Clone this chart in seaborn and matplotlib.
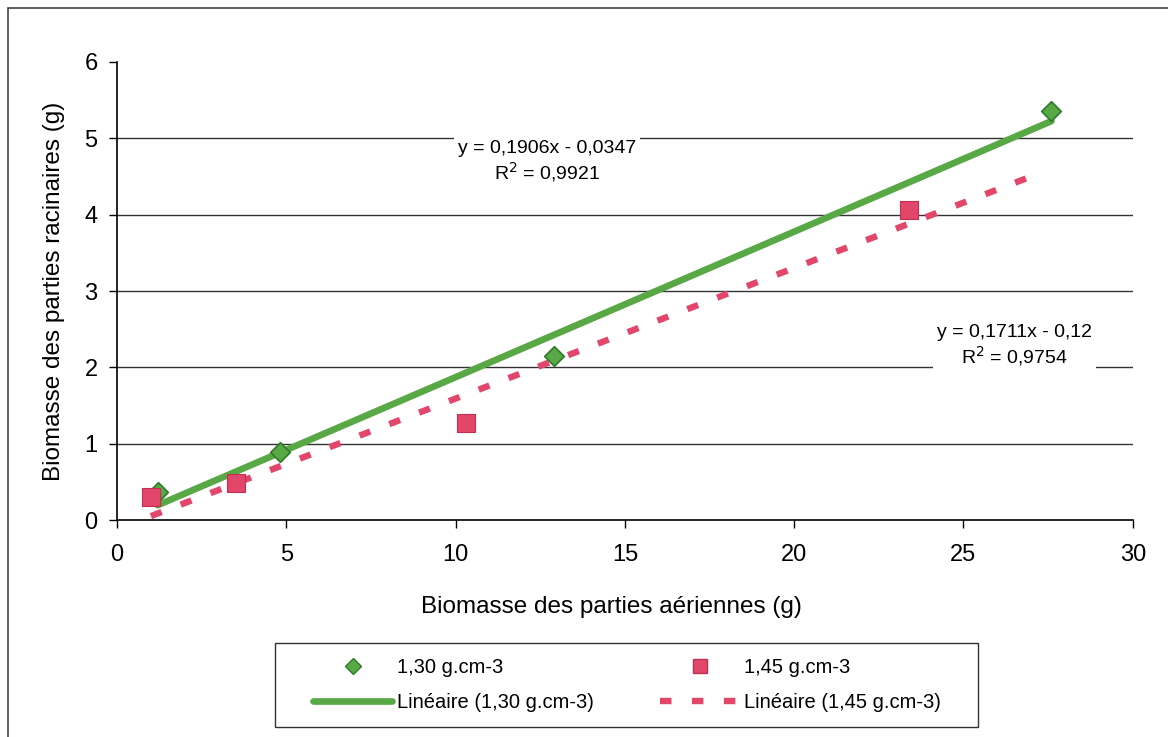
import numpy as np
import pandas as pd
import matplotlib
matplotlib.use("Agg")
import matplotlib.pyplot as plt
from matplotlib.patches import Rectangle
from matplotlib.lines import Line2D
import seaborn as sns

# values
x_130 = [1.2, 4.8, 12.9, 27.6]
y_130 = [0.37, 0.89, 2.15, 5.36]
x_145 = [1.0, 3.5, 10.3, 23.4]
y_145 = [0.30, 0.48, 1.27, 4.06]

# trend lines (Excel linear fits, as printed on the chart)
fit_130 = (0.1906, -0.0347, 0.9921)
fit_145 = (0.1711, -0.12, 0.9754)
line_x_130 = [1.2, 27.6]
line_x_145 = [1.0, 27.2]

labels = ["1,30 g.cm-3", "1,45 g.cm-3"]
green = "#58a846"
pink = "#e2476b"
pink_dash = (0, (1.8, 3.2))

sns.set_style("white")
plt.rcParams["font.family"] = ["Liberation Sans", "DejaVu Sans"]
plt.rcParams["text.color"] = "black"
plt.rcParams["axes.labelcolor"] = "black"
plt.rcParams["xtick.color"] = "black"
plt.rcParams["ytick.color"] = "black"

pts = pd.concat([
    pd.DataFrame({"x": x_130, "y": y_130, "serie": labels[0]}),
    pd.DataFrame({"x": x_145, "y": y_145, "serie": labels[1]}),
])
lx130 = np.array(line_x_130)
lx145 = np.array(line_x_145)
lines = pd.concat([
    pd.DataFrame({"x": lx130, "y": fit_130[0] * lx130 + fit_130[1], "serie": labels[0]}),
    pd.DataFrame({"x": lx145, "y": fit_145[0] * lx145 + fit_145[1], "serie": labels[1]}),
])

fig = plt.figure(figsize=(11.68, 7.37), dpi=100)
ax = fig.add_axes([0.1002, 0.2944, 0.8696, 0.6215])

for y in range(1, 6):
    ax.axhline(y, color="#333333", lw=1.0, zorder=0)

sns.lineplot(data=lines[lines.serie == labels[0]], x="x", y="y", color=green,
             lw=4.8, ax=ax, zorder=3, legend=False)
sns.lineplot(data=lines[lines.serie == labels[1]], x="x", y="y", color=pink,
             lw=4.6, ax=ax, zorder=3, legend=False)
ax.lines[-1].set_linestyle(pink_dash)

sns.scatterplot(data=pts[pts.serie == labels[0]], x="x", y="y", marker="D",
                s=100, color=green, edgecolor="#2f7a2a", linewidth=1.2,
                ax=ax, zorder=4, legend=False)
sns.scatterplot(data=pts[pts.serie == labels[1]], x="x", y="y", marker="s",
                s=170, color=pink, edgecolor="#c0304f", linewidth=0.8,
                ax=ax, zorder=4, legend=False)

ax.text(12.7, 4.69, "y = 0,1906x - 0,0347\nR$^2$ = 0,9921", ha="center", va="center",
        fontsize=14, linespacing=1.15, zorder=5,
        bbox=dict(facecolor="white", edgecolor="none", pad=3))
ax.text(26.5, 2.28, "y = 0,1711x - 0,12\nR$^2$ = 0,9754", ha="center", va="center",
        fontsize=14, linespacing=1.15, zorder=5,
        bbox=dict(facecolor="white", edgecolor="none", pad=3))

ax.set_xlim(0, 30)
ax.set_ylim(0, 6)
ax.set_xticks(range(0, 31, 5))
ax.set_yticks(range(0, 7))
ax.tick_params(axis="both", labelsize=17, direction="out", length=6, width=1,
               color="black", bottom=True, left=True)
ax.tick_params(axis="x", pad=11)
ax.tick_params(axis="y", pad=8)
for s in ["top", "right"]:
    ax.spines[s].set_visible(False)
for s in ["left", "bottom"]:
    ax.spines[s].set_color("black")
    ax.spines[s].set_linewidth(1.2)

ax.set_xlabel("Biomasse des parties aériennes (g)", fontsize=17.5)
ax.set_ylabel("Biomasse des parties racinaires (g)", fontsize=17.5, labelpad=14)
ax.xaxis.set_label_coords(0.487, -0.165)

handles = [
    Line2D([], [], ls="none", marker="D", ms=8, color=green, mec="#2f7a2a"),
    Line2D([], [], color=green, lw=4.8),
    Line2D([], [], ls="none", marker="s", ms=10, color=pink, mec="#c0304f"),
    Line2D([], [], color=pink, lw=4.6, ls=pink_dash),
]
leg_labels = [labels[0], "Linéaire (1,30 g.cm-3)", labels[1], "Linéaire (1,45 g.cm-3)"]
fig.legend(handles, leg_labels, ncol=2, loc="center",
           bbox_to_anchor=(627 / 1168, 1 - 685 / 737),
           fontsize=14.5, frameon=False, handlelength=3.9, labelspacing=0.8,
           columnspacing=3.3, handletextpad=0.25, borderaxespad=0)

# legend box and outer chart frame (only top and left edges show)
fig.patches.append(Rectangle((275 / 1168, 1 - 727 / 737), 703 / 1168, 84 / 737,
                             transform=fig.transFigure, fill=False,
                             edgecolor="#333333", lw=1.0))
fig.patches.append(Rectangle((8 / 1168, -0.1), 1.2, 1 - 8 / 737 + 0.1,
                             transform=fig.transFigure, fill=False,
                             edgecolor="#444444", lw=1.2))

fig.savefig("out.png", dpi=100)
